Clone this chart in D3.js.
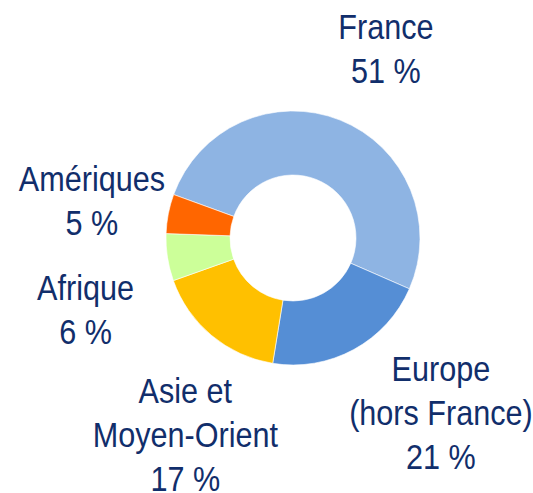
<!DOCTYPE html>
<html>
<head>
<meta charset="utf-8">
<script src="https://cdn.jsdelivr.net/npm/d3@7"></script>
<style>
  html, body { margin: 0; padding: 0; background: #ffffff; }
  svg { display: block; }
  .lbl { font-family: "Liberation Sans Narrow", "Arial Narrow", "Liberation Sans", Arial, sans-serif; }
</style>
</head>
<body>
<div id="chart"></div>
<script>
// parts of the total, in %
const regions = ["France", "Europe (hors France)", "Asie et Moyen-Orient", "Afrique", "Amériques"];
const shares = [51, 21, 17, 6, 5];
const sliceColors = ["#8eb4e3", "#558ed5", "#ffc000", "#ccff99", "#ff6600"];
const labelLines = [
    ["France", "51 %"],
    ["Europe", "(hors France)", "21 %"],
    ["Asie et", "Moyen-Orient", "17 %"],
    ["Afrique", "6 %"],
    ["Amériques", "5 %"]
];
// small hand nudges so the labels sit where the original put them
const labelNudge = [[13, 10], [45, -14], [30, 31], [5, 39], [10, 4]];

const W = 533, H = 493;
const cx = 293, cy = 238;
const R = 127, r = 63;
const LINE = 44;
const TEXT = "#112e6b";
const NARROW = 0.85; // no narrow font installed, so squeeze the regular one

const svg = d3.select("#chart").append("svg")
    .attr("width", W)
    .attr("height", H);

const data = regions.map((name, i) => ({ name, value: shares[i], color: sliceColors[i], lines: labelLines[i], nudge: labelNudge[i] }));

const startA = -70 * Math.PI / 180;
const pie = d3.pie()
    .sort(null)
    .value(d => d.value)
    .startAngle(startA)
    .endAngle(startA + 2 * Math.PI);

const arc = d3.arc().innerRadius(r).outerRadius(R);
const labelArc = d3.arc().innerRadius(215).outerRadius(215);

const g = svg.append("g").attr("transform", `translate(${cx},${cy})`);

g.selectAll("path.slice")
    .data(pie(data))
    .join("path")
    .attr("class", "slice")
    .attr("d", arc)
    .attr("fill", d => d.data.color)
    .attr("stroke", "#ffffff")
    .attr("stroke-width", 0.6);

const labels = g.selectAll("text.lbl")
    .data(pie(data))
    .join("text")
    .attr("class", "lbl")
    .attr("text-anchor", "middle")
    .attr("fill", TEXT)
    .style("font-size", "36px")
    .attr("transform", d => {
        const c = labelArc.centroid(d);
        return `translate(${c[0] + d.data.nudge[0]},${c[1] + d.data.nudge[1]}) scale(${NARROW},1)`;
    });

labels.each(function (d) {
    const n = d.data.lines.length;
    d3.select(this).selectAll("tspan")
        .data(d.data.lines)
        .join("tspan")
        .attr("x", 0)
        .attr("y", (t, i) => (i - (n - 1) / 2) * LINE + 12.5)
        .text(t => t);
});
</script>
</body>
</html>
